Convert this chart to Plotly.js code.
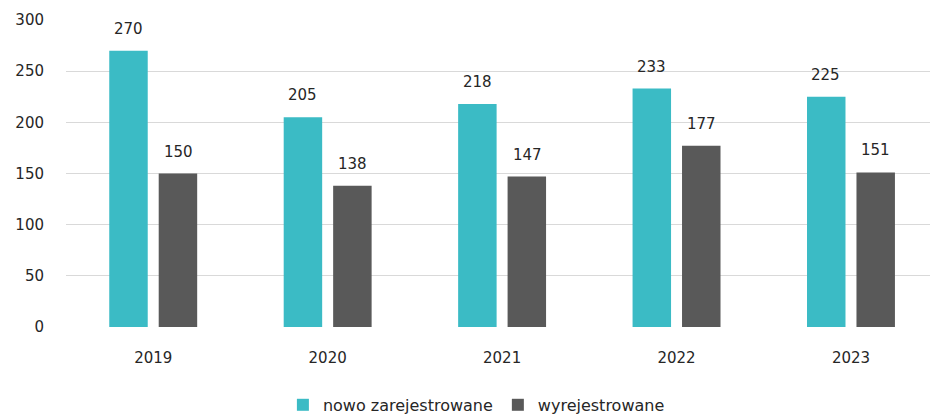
<!DOCTYPE html>
<html><head><meta charset="utf-8">
<script src="https://cdn.plot.ly/plotly-3.0.1.min.js"></script>
<style>html,body{margin:0;padding:0;background:#fff}#c{width:930px;height:414px}</style>
</head><body><div id="c"></div>
<script>
var years = ["2019","2020","2021","2022","2023"];
var nowo = [270,205,218,233,225];
var wyrej = [150,138,147,177,151];
var seriesNames = ["nowo zarejestrowane","wyrejestrowane"];
var colors = ["#3BBBC5","#595959"];
var yTicks = [0,50,100,150,200,250,300];

var fam = "'DejaVu Sans', sans-serif";
var font = {family:fam, size:15, color:"#262626"};
var traces = [
  {type:"bar", x:years, y:nowo, name:seriesNames[0], marker:{color:colors[0]}},
  {type:"bar", x:years, y:wyrej, name:seriesNames[1], marker:{color:colors[1]}}
];
var ann = [];
[nowo, wyrej].forEach(function(arr, s){
  arr.forEach(function(v,i){
    ann.push({x:i, y:v, text:String(v), showarrow:false, xref:"x", yref:"y",
      xanchor:"center", yanchor:"bottom", xshift: s===0 ? -25 : 25, yshift:11,
      font:{family:fam, size:15, color:"#262626"}});
  });
});
var layout = {
  width:930, height:414,
  margin:{l:66, r:0, t:20, b:87},
  paper_bgcolor:"#fff", plot_bgcolor:"#fff",
  font:font,
  barmode:"group", bargap:0.433, bargroupgap:0.222,
  xaxis:{type:"category", range:[-0.5,4.453], showgrid:false, zeroline:false, showline:false,
    ticks:"", tickfont:{size:15}, ticklabelstandoff:20},
  yaxis:{range:[0,300], tickvals:yTicks, showgrid:true, gridcolor:"#d9d9d9", gridwidth:1,
    zeroline:false, showline:false, ticks:"", tickfont:{size:15}, ticklabelstandoff:21},
  showlegend:true,
  legend:{orientation:"h", x:0.475, xanchor:"center", yref:"container", y:0.022, yanchor:"middle",
    font:{size:16}, itemwidth:30, traceorder:"normal"},
  annotations:ann
};
Plotly.newPlot("c", traces, layout, {staticPlot:true, displayModeBar:false});
</script></body></html>
